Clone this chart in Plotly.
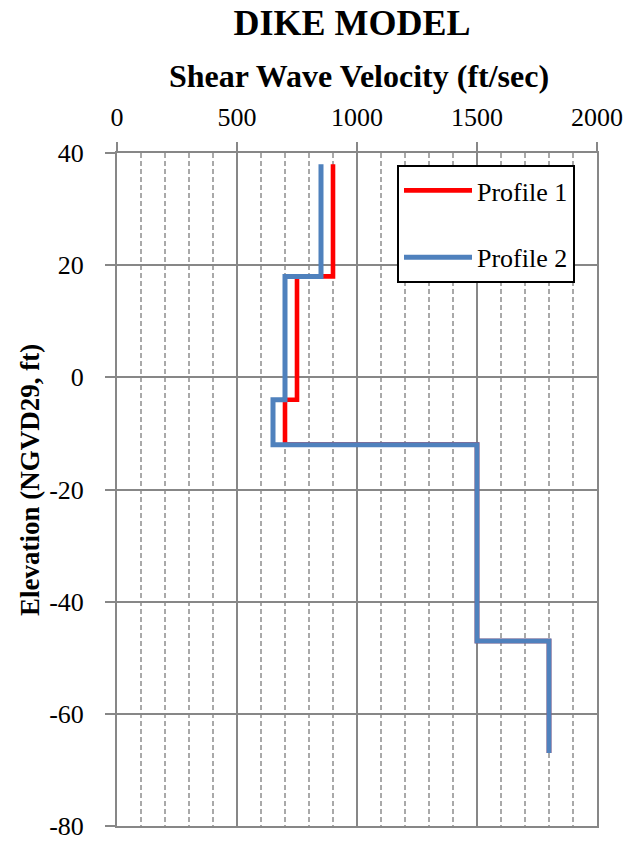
import plotly.graph_objects as go

# Layer boundaries (elevation, ft NGVD29) and layer shear wave velocities (ft/sec)
layer_bounds = [38, 18, -4, -12, -47, -67]
profile1_vs = [900, 750, 700, 1500, 1800]
profile2_vs = [850, 700, 650, 1500, 1800]

x_ticks = [0, 500, 1000, 1500, 2000]
y_ticks = [40, 20, 0, -20, -40, -60, -80]


def step_profile(bounds, velocities):
    """Turn layered velocities into a stepped (x, y) path."""
    xs, ys = [], []
    for i, v in enumerate(velocities):
        xs += [v, v]
        ys += [bounds[i], bounds[i + 1]]
    return xs, ys


FONT = "Liberation Serif"
GRID = "#878787"
MINOR = "#A9A9A9"

x1, y1 = step_profile(layer_bounds, profile1_vs)
x2, y2 = step_profile(layer_bounds, profile2_vs)

fig = go.Figure()
fig.add_trace(go.Scatter(x=x1, y=y1, mode="lines", name="Profile 1",
                         legendgroup="p1",
                         line=dict(color="#FF0000", width=4.6)))
fig.add_trace(go.Scatter(x=x2, y=y2, mode="lines", name="Profile 2",
                         legendgroup="p2",
                         line=dict(color="#4F81BD", width=5)))

fig.update_layout(
    width=630, height=846,
    margin=dict(l=117, r=33, t=153, b=20),
    paper_bgcolor="white", plot_bgcolor="white",
    font=dict(family=FONT, size=26, color="black"),
    showlegend=True,
    legend=dict(
        x=(397 - 117) / 480, y=1 - (165 - 153) / 673,
        xanchor="left", yanchor="top",
        bgcolor="white", bordercolor="black", borderwidth=2,
        font=dict(family=FONT, size=26, color="black"),
        tracegroupgap=30, itemwidth=68,
    ),
    title=dict(text="<b>DIKE MODEL</b>", x=352 / 630, xanchor="center",
               y=1 - 22 / 846, yanchor="middle", yref="container",
               font=dict(family=FONT, size=36, color="black")),
)

fig.update_xaxes(
    side="top", range=[0, 2000], tickvals=x_ticks,
    ticktext=[str(v) for v in x_ticks],
    ticks="outside", ticklen=9, tickcolor=GRID, tickwidth=2,
    ticklabelstandoff=6, automargin=False,
    showgrid=True, gridcolor=GRID, gridwidth=2,
    minor=dict(dtick=100, showgrid=True, gridcolor=MINOR, gridwidth=1.5,
               griddash="5px,3px", ticks=""),
    showline=True, linecolor=GRID, linewidth=2, mirror=True,
    zeroline=False,
    tickfont=dict(family=FONT, size=26, color="black"),
)
fig.update_yaxes(
    range=[-80, 40], tickvals=y_ticks,
    ticktext=[str(v) for v in y_ticks],
    ticks="outside", ticklen=10, tickcolor=GRID, tickwidth=2,
    ticklabelstandoff=16, automargin=False,
    showgrid=True, gridcolor=GRID, gridwidth=2,
    showline=True, linecolor=GRID, linewidth=2, mirror=True,
    zeroline=False,
    tickfont=dict(family=FONT, size=26, color="black"),
)

# Axis titles
fig.add_annotation(text="<b>Shear Wave Velocity (ft/sec)</b>",
                   xref="paper", yref="paper", x=(359 - 117) / 480,
                   y=1 + (153 - 76) / 673, xanchor="center", yanchor="middle",
                   showarrow=False, font=dict(family=FONT, size=32, color="black"))
fig.add_annotation(text="<b>Elevation (NGVD29, ft)</b>",
                   xref="paper", yref="paper", x=(30 - 117) / 480,
                   y=1 - (480 - 153) / 673,
                   xanchor="center", yanchor="middle", textangle=-90,
                   showarrow=False, font=dict(family=FONT, size=27, color="black"))

fig.write_html("out.html")
